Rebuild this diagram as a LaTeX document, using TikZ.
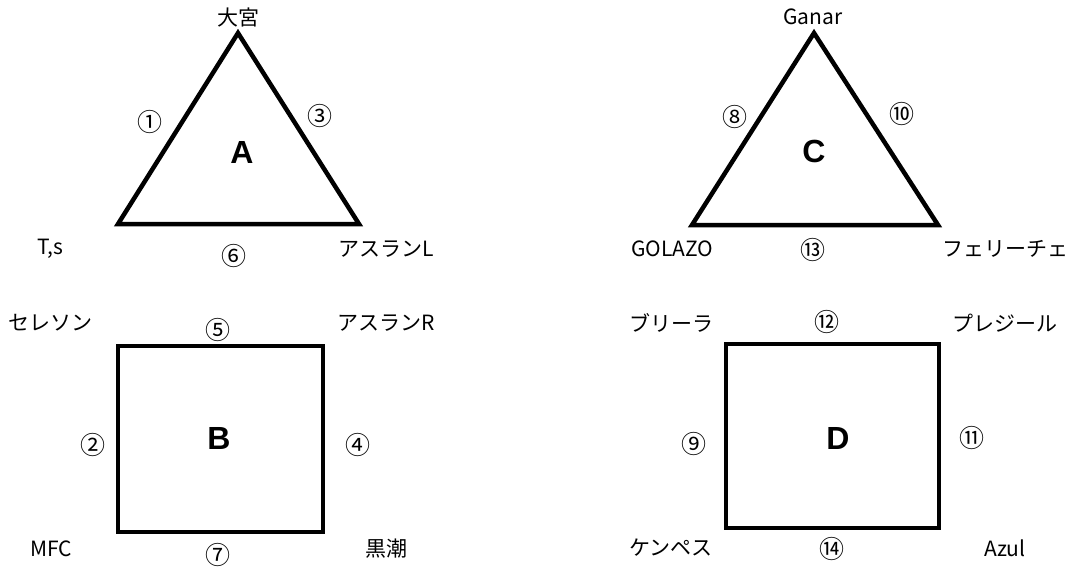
\documentclass[tikz,border=0pt]{standalone}
\usepackage{fontspec}
\setmainfont{Noto Sans CJK JP}
\newfontfamily\latinfont{Liberation Sans}
\tikzset{every picture/.style={line width=0.75pt}}
\begin{document}
\begin{tikzpicture}[x=1pt,y=-1pt,
	lbl/.style={font=\fontsize{21}{25}\selectfont},
	num/.style={font=\fontsize{25}{28}\selectfont},
	big/.style={font=\latinfont\bfseries\fontsize{32}{36}\selectfont},
	frame/.style={line width=4.5pt,line join=miter}]
				\useasboundingbox (0,0) rectangle (1075,566);
				% A
				\coordinate (a1) at (238,33); \coordinate (a2) at (118,224); \coordinate (a3) at (359,224);
				\draw[frame] (a1)--(a2)--(a3)--cycle;
				\node[lbl] (omiya) at (238,17) {大宮};
				\node[lbl] (ts) at (50,249) {T,s};
				\node[lbl] (aslanL) at (386,249) {アスランL};
				\node[num] (n1) at (150,122) {①};
				\node[num] (n3) at (320,116) {③};
				\node[num] (n6) at (234,256) {⑥};
				\node[big] (A) at (242,152) {A};
				% B
				\coordinate (b1) at (118,346); \coordinate (b2) at (323,532);
				\draw[frame] (b1) rectangle (b2);
				\node[lbl] (seleson) at (51,323) {セレソン};
				\node[lbl] (aslanR) at (386,323) {アスランR};
				\node[lbl] (mfc) at (51,549) {MFC};
				\node[lbl] (kuroshio) at (386,549) {黒潮};
				\node[num] (n5) at (218,330) {⑤};
				\node[num] (n2) at (93,445) {②};
				\node[num] (n4) at (358,445) {④};
				\node[num] (n7) at (218,555) {⑦};
				\node[big] (B) at (219,438) {B};
				% C
				\coordinate (c1) at (814,33); \coordinate (c2) at (692,225); \coordinate (c3) at (938,225);
				\draw[frame] (c1)--(c2)--(c3)--cycle;
				\node[lbl] (ganar) at (813,17) {Ganar};
				\node[lbl] (golazo) at (672,249) {GOLAZO};
				\node[lbl] (feliche) at (1005,249) {フェリーチェ};
				\node[num] (n8) at (735,117) {⑧};
				\node[num] (n10) at (902,114) {⑩};
				\node[num] (n13) at (813,250) {⑬};
				\node[big] (C) at (814,151) {C};
				% D
				\coordinate (d1) at (726,344); \coordinate (d2) at (939,528);
				\draw[frame] (d1) rectangle (d2);
				\node[lbl] (brilla) at (671,323) {ブリーラ};
				\node[lbl] (plaisir) at (1005,323) {プレジール};
				\node[lbl] (kempes) at (671,548) {ケンペス};
				\node[lbl] (azul) at (1005,548) {Azul};
				\node[num] (n12) at (827,322) {⑫};
				\node[num] (n9) at (694,444) {⑨};
				\node[num] (n11) at (972,438) {⑪};
				\node[num] (n14) at (832,549) {⑭};
				\node[big] (D) at (838,438) {D};
			\end{tikzpicture}
\end{document}
